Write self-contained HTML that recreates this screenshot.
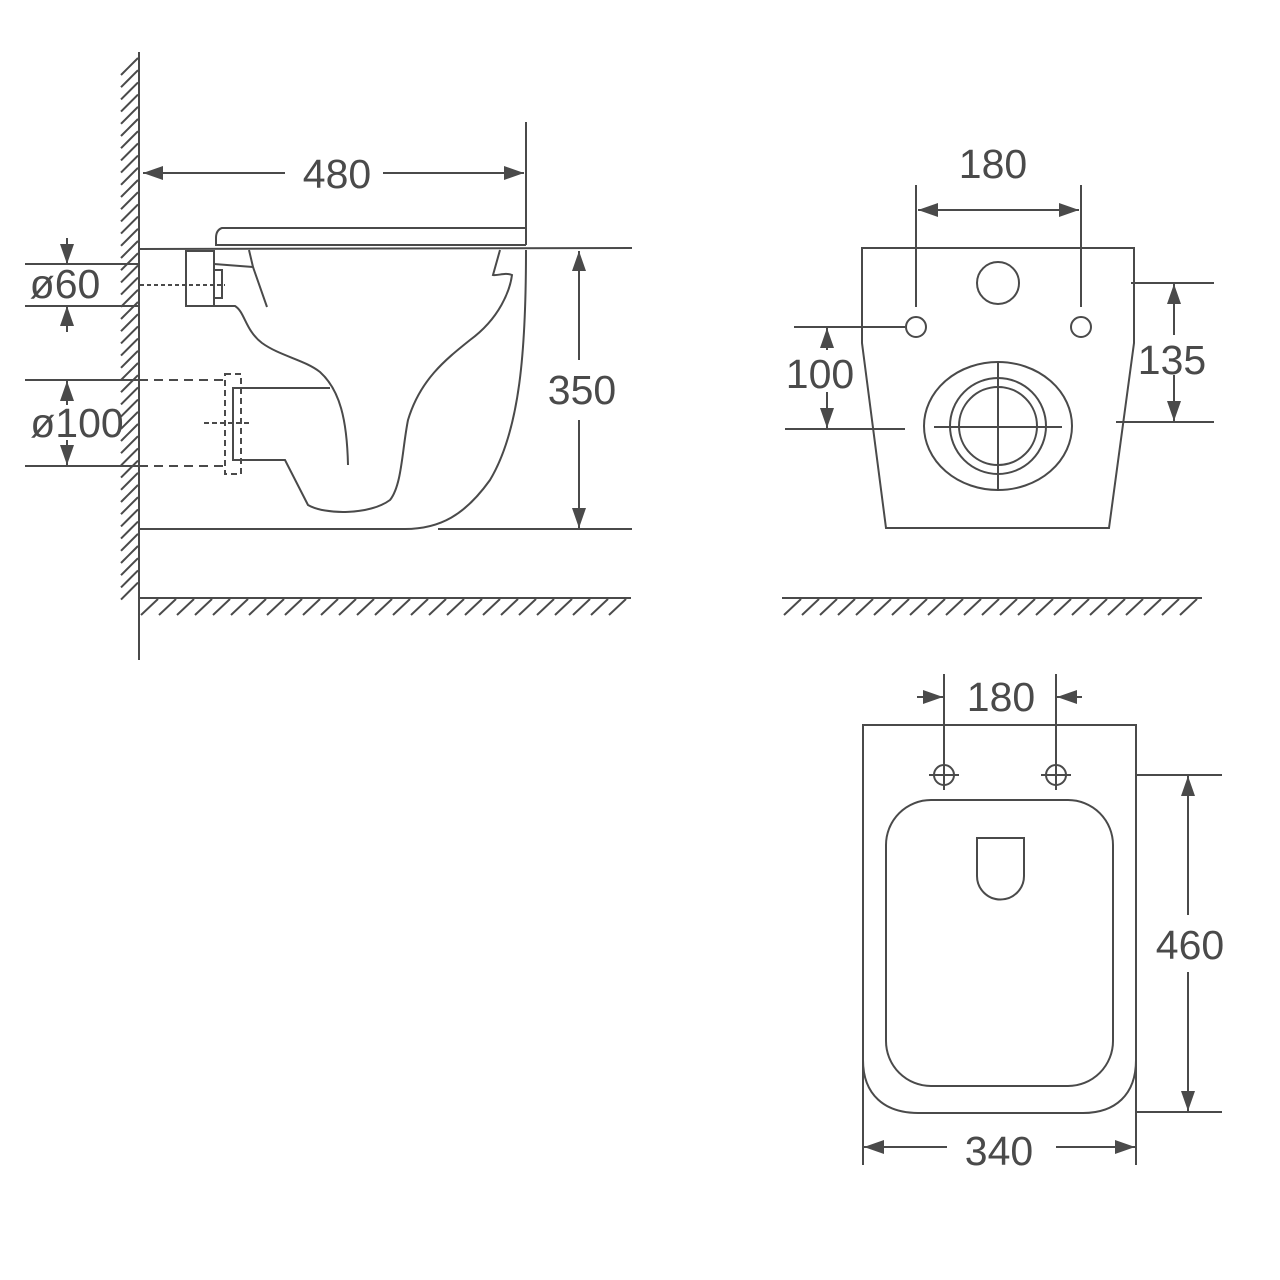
<!DOCTYPE html>
<html><head><meta charset="utf-8"><style>
html,body{margin:0;padding:0;background:#fff}
svg{display:block}
text{font-family:"Liberation Sans",Arial,sans-serif;fill:#4a4a4a;font-size:41px}
</style></head><body>
<svg id="s" width="1280" height="1280" viewBox="0 0 1280 1280" xmlns="http://www.w3.org/2000/svg">
<defs>
<marker id="a" viewBox="0 0 20 14" refX="20" refY="7" markerWidth="20" markerHeight="14" markerUnits="userSpaceOnUse" orient="auto"><path d="M0,0 L20,7 L0,14 Z" fill="#4a4a4a"/></marker>
</defs>
<g id="g" stroke="#4a4a4a" stroke-width="2" fill="none">
<line x1="139" y1="52" x2="139" y2="660"/>
<line x1="139" y1="598" x2="631" y2="598"/>
<path d="M526,122 V245"/>
<path d="M526,228 H222 Q216,230 216,238 V246"/>
<line x1="216" y1="245" x2="526" y2="245"/>
<line x1="139" y1="249" x2="632" y2="248"/>
<rect x="186" y="251" width="28" height="55"/>
<rect x="214" y="270" width="8" height="28"/>
<path d="M214,264 L253,267"/>
<path d="M249,250 L253,267 L267,307"/>
<line x1="140" y1="285" x2="225" y2="285" stroke-dasharray="4,3"/>
<path d="M214,306 L235,306 C245,312 245,330 262,343 C280,356 305,360 320,372 C340,390 347,420 348,465"/>
<path d="M330,388 H233 V460 H285 L308,505 C325,515 370,515 390,500 C402,485 402,450 408,420 C420,380 445,360 470,340 C500,318 510,290 512,275 C505,272 498,276 493,275 L500,250"/>
<rect x="225" y="374" width="16" height="100" stroke-dasharray="6,4"/>
<line x1="204" y1="423" x2="252" y2="423" stroke-dasharray="5,3"/>
<line x1="139" y1="380" x2="225" y2="380" stroke-dasharray="9,6"/>
<line x1="139" y1="466" x2="225" y2="466" stroke-dasharray="9,6"/>
<path d="M526,250 C526,350 520,430 490,480 C465,515 440,529 405,529 H139"/>
<line x1="438" y1="529" x2="632" y2="529"/>
<line x1="285" y1="173" x2="143" y2="173" marker-end="url(#a)"/>
<line x1="383" y1="173" x2="524" y2="173" marker-end="url(#a)"/>
<line x1="579" y1="360" x2="579" y2="251" marker-end="url(#a)"/>
<line x1="579" y1="420" x2="579" y2="528" marker-end="url(#a)"/>
<line x1="25" y1="264" x2="139" y2="264"/>
<line x1="25" y1="306" x2="139" y2="306"/>
<line x1="67" y1="238" x2="67" y2="264" marker-end="url(#a)"/>
<line x1="67" y1="332" x2="67" y2="306" marker-end="url(#a)"/>
<line x1="25" y1="380" x2="139" y2="380"/>
<line x1="25" y1="466" x2="139" y2="466"/>
<line x1="67" y1="405" x2="67" y2="381" marker-end="url(#a)"/>
<line x1="67" y1="440" x2="67" y2="465" marker-end="url(#a)"/>

<path d="M862,343 V248 H1134 V343 L1109,528 H886 Z" />
<circle cx="998" cy="283" r="21"/>
<circle cx="916" cy="327" r="10"/>
<circle cx="1081" cy="327" r="10"/>
<line x1="916" y1="185" x2="916" y2="307"/>
<line x1="1081" y1="185" x2="1081" y2="307"/>
<line x1="998" y1="210" x2="918" y2="210" marker-end="url(#a)"/>
<line x1="998" y1="210" x2="1079" y2="210" marker-end="url(#a)"/>
<ellipse cx="998" cy="426" rx="74" ry="64"/>
<circle cx="998" cy="426" r="48"/>
<circle cx="998" cy="426" r="39"/>
<line x1="934" y1="427" x2="1062" y2="427"/>
<line x1="998" y1="362" x2="998" y2="491"/>
<line x1="794" y1="327" x2="905" y2="327"/>
<line x1="785" y1="429" x2="905" y2="429"/>
<line x1="827" y1="350" x2="827" y2="328" marker-end="url(#a)"/>
<line x1="827" y1="392" x2="827" y2="428" marker-end="url(#a)"/>
<line x1="1131" y1="283" x2="1214" y2="283"/>
<line x1="1116" y1="422" x2="1214" y2="422"/>
<line x1="1174" y1="335" x2="1174" y2="284" marker-end="url(#a)"/>
<line x1="1174" y1="375" x2="1174" y2="421" marker-end="url(#a)"/>
<line x1="782" y1="598" x2="1202" y2="598"/>

<path d="M863,1165 V725 H1136 V1165"/>
<path d="M863,1060 C863,1095 885,1113 918,1113 H1083 C1115,1113 1136,1095 1136,1060"/>
<rect x="886" y="800" width="227" height="286" rx="45" ry="45"/>
<path d="M977,838 H1024 V876 A23.5,23.5 0 0 1 977,876 Z"/>
<circle cx="944" cy="775" r="10"/>
<line x1="929" y1="775" x2="959" y2="775"/><line x1="944" y1="760" x2="944" y2="790"/>
<circle cx="1056" cy="775" r="10"/>
<line x1="1041" y1="775" x2="1071" y2="775"/><line x1="1056" y1="760" x2="1056" y2="790"/>
<line x1="944" y1="674" x2="944" y2="760"/>
<line x1="1056" y1="674" x2="1056" y2="760"/>
<line x1="917" y1="697" x2="943" y2="697" marker-end="url(#a)"/>
<line x1="1082" y1="697" x2="1057" y2="697" marker-end="url(#a)"/>
<line x1="1137" y1="775" x2="1222" y2="775"/>
<line x1="1137" y1="1112" x2="1222" y2="1112"/>
<line x1="1188" y1="915" x2="1188" y2="776" marker-end="url(#a)"/>
<line x1="1188" y1="972" x2="1188" y2="1111" marker-end="url(#a)"/>
<line x1="947" y1="1147" x2="864" y2="1147" marker-end="url(#a)"/>
<line x1="1056" y1="1147" x2="1135" y2="1147" marker-end="url(#a)"/>
</g>
<g id="h" stroke="#4a4a4a" stroke-width="2"></g>
<text x="337" y="188" text-anchor="middle">480</text>
<text x="582" y="404" text-anchor="middle">350</text>
<text x="65" y="298" text-anchor="middle">ø60</text>
<text x="77" y="437" text-anchor="middle">ø100</text>
<text x="993" y="178" text-anchor="middle">180</text>
<text x="820" y="388" text-anchor="middle">100</text>
<text x="1172" y="374" text-anchor="middle">135</text>
<text x="1001" y="711" text-anchor="middle">180</text>
<text x="1190" y="959" text-anchor="middle">460</text>
<text x="999" y="1165" text-anchor="middle">340</text>
</svg>
<script>
var h=document.getElementById('h'),s='';
for(var y=58;y<590;y+=12.2){s+='<line x1="121" y1="'+(y+17)+'" x2="138" y2="'+y+'"/>';}
for(var x=141;x<612;x+=18){s+='<line x1="'+x+'" y1="615" x2="'+(x+17)+'" y2="599"/>';}
for(var x=784;x<1196;x+=18){s+='<line x1="'+x+'" y1="615" x2="'+(x+17)+'" y2="599"/>';}
h.innerHTML=s;
</script>
</body></html>
